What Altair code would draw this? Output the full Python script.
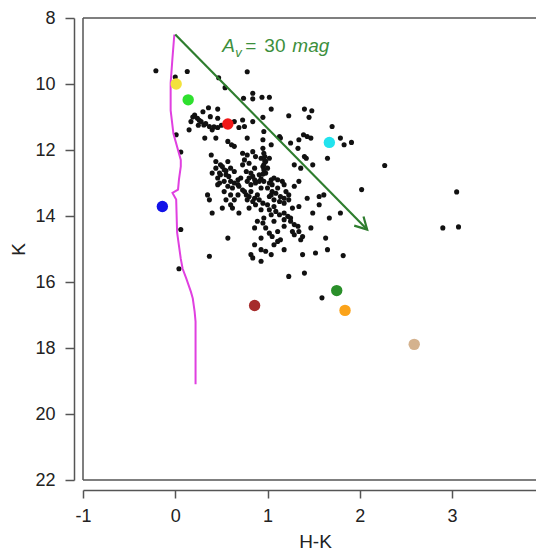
import altair as alt
import pandas as pd

# ---- black field stars (H-K, K) ----
dot_hk = [0.54, 0.74, 0.84, 0.84, 0.94, 1.02, 1.04, 0.95, 0.84, 0.75, 0.69, 1.23, 1.40, 1.48, 1.45,
          0.36, 0.46, 0.38, 0.21, 0.24, 0.28, 0.31, 0.37, 0.46, 0.15, 0.40, 0.32, 0.44, 0.57, 0.61,
          0.64, 0.78, 0.95, 0.95, 1.04, 0.96, 1.13, 1.14, 1.25, 1.34, 1.39, 1.43, 1.47, 1.70, 1.65,
          1.40, 1.42, 1.49, 1.33, 1.29, 1.36, 0.39, 0.44, 0.49, 0.57, 0.53, 0.60, 0.64, 0.73, 0.78,
          0.84, 0.87, 0.93, 0.95, 0.98, 1.02, 1.00, 0.98, 0.91, 0.84, 0.73, 0.77, 0.71, 0.78, 0.82,
          0.87, 0.96, 1.04, 1.11, 1.16, 1.18, 1.11, 1.05, 1.00, 0.93, 0.82, 0.77, 0.78, 0.86, 0.89,
          0.68, 0.62, 0.57, 0.53, 0.48, 0.46, 0.49, 0.40, 0.55, 0.68, 0.64, 0.60, 0.35, 0.37, 0.51,
          0.62, 0.69, 0.40, 0.95, 1.00, 1.07, 1.13, 1.18, 1.23, 1.20, 1.27, 1.34, 1.18, 1.13, 1.04,
          0.96, 0.95, 0.98, 0.86, 0.89, 1.07, 1.18, 1.25, 1.29, 1.34, 1.38, 1.27, 1.49, 1.56, 1.61,
          1.56, 1.67, 1.79, 1.47, 1.63, 1.52, 1.65, 1.38, 1.40, 1.23, 1.07, 1.14, 1.11, 1.04, 0.98,
          0.93, 0.86, 0.82, 0.93, 0.84, 1.18, 0.57, 0.37, 1.34, 1.29, 1.43, 0.73, 0.64, 0.46, 0.30,
          0.17,
          0.75, 0.80, 0.86, 0.82, 0.91, 0.73, 0.68, 0.60, 1.05, 1.02, 0.93, 1.07, 0.87, 0.80, 1.02,
          1.18, 1.11, 0.93, 1.05,
          -0.21, 0.00, 0.13, 0.47, 0.78, 0.01, 0.06, 0.06, 0.04, 1.59, 1.82, 1.79, 1.83, 1.91, 2.27,
          2.02, 3.05, 2.90, 3.07,
          0.96, 0.97, 0.97, 0.96, 0.96, 0.95, 0.93, 0.51, 0.55, 0.48, 0.58, 0.53, 0.64, 0.69, 0.75,
          0.80, 0.84, 0.91, 1.04, 1.09, 1.14, 1.18, 1.23, 1.02, 1.09, 1.22, 1.25, 0.80, 0.86, 1.02,
          1.07, 0.44, 0.46, 0.60, 0.55, 1.29, 1.36, 1.33,
          0.19, 0.26, 0.33, 0.42, 0.50, 0.25]
dot_k = [10.11, 10.43, 10.28, 10.45, 10.40, 10.40, 10.76, 11.01, 11.14, 11.29, 11.32, 10.96, 10.76, 10.81, 11.01,
         10.72, 10.76, 10.99, 10.94, 11.04, 11.14, 11.24, 11.29, 11.32, 11.39, 11.39, 11.64, 11.64, 11.74, 11.84,
         11.89, 11.64, 11.69, 11.95, 11.84, 11.44, 11.59, 11.64, 11.79, 11.69, 11.54, 11.59, 11.64, 11.29, 12.25,
         12.20, 12.25, 12.45, 11.95, 12.45, 12.55, 12.15, 12.35, 12.45, 12.35, 12.60, 12.55, 12.65, 12.10, 12.15,
         12.05, 12.20, 12.25, 12.50, 12.35, 12.25, 12.55, 12.70, 12.75, 12.80, 12.45, 12.65, 12.85, 12.95, 13.05,
         13.00, 12.95, 12.90, 12.90, 12.95, 13.05, 13.15, 13.26, 13.15, 13.15, 13.26, 13.36, 13.51, 13.46, 13.36,
         13.05, 13.15, 13.10, 13.26, 13.00, 12.85, 12.75, 12.70, 12.75, 13.36, 13.51, 13.66, 13.36, 13.51, 13.76,
         13.76, 13.91, 13.91, 13.61, 13.66, 13.71, 13.56, 13.46, 13.36, 13.26, 13.76, 13.71, 13.91, 13.96, 13.96,
         14.06, 14.21, 14.36, 14.36, 14.16, 14.16, 14.11, 14.16, 14.26, 14.47, 14.62, 14.47, 13.91, 13.66, 13.36,
         13.41, 14.06, 13.91, 14.36, 14.67, 15.12, 15.02, 15.17, 15.73, 15.83, 14.87, 14.72, 14.77, 15.17, 15.07,
         15.02, 14.87, 15.17, 15.37, 15.27, 15.02, 14.67, 15.22, 12.95, 13.10, 13.46, 11.09, 11.14, 11.04, 10.84,
         11.14,
         12.30, 12.40, 12.55, 12.70, 12.95, 13.21, 12.90, 12.95, 13.05, 13.41, 13.81, 13.51, 13.66, 13.76, 14.52,
         14.31, 14.47, 14.67, 14.62,
         9.60, 9.79, 9.62, 9.81, 9.63, 11.54, 12.06, 14.41, 15.60, 16.48, 15.20, 11.64, 11.84, 11.77, 12.47,
         13.20, 13.27, 14.36, 14.33,
         12.10, 12.20, 12.33, 12.45, 12.60, 12.73, 12.87, 12.50, 12.63, 12.70, 12.80, 12.95, 13.00, 13.10, 13.26,
         13.41, 13.56, 13.51, 13.36, 13.31, 13.41, 13.61, 13.51, 13.81, 13.86, 14.01, 14.06, 12.85, 12.90, 13.00,
         12.85, 12.55, 13.05, 13.36, 13.51, 14.57, 14.72, 14.31,
         11.00, 11.10, 11.20, 11.30, 11.25, 11.25]

# ---- coloured sources ----
star_hk = [0.01, 0.14, 0.57, -0.14, 1.67, 0.86, 1.75, 1.84, 2.59]
star_k = [10.00, 10.48, 11.21, 13.71, 11.77, 16.71, 16.26, 16.86, 17.89]
star_color = ["#F3E23C", "#2EE02E", "#F01818", "#1212E8", "#22E3EE",
              "#A62B2B", "#2A8F2A", "#FBA31A", "#D4B28E"]

# ---- isochrone (magenta) ----
iso_hk = [-0.01, -0.03, -0.05, -0.05, -0.02, 0.06, 0.06, 0.04, 0.03, -0.03, -0.01, 0.01,
          0.02, 0.06, 0.08, 0.12, 0.17, 0.19, 0.21, 0.22, 0.22]
iso_k = [8.5, 9.2, 9.97, 10.8, 11.5, 12.3, 12.5, 12.9, 13.2, 13.3, 13.4, 13.5,
         14.5, 15.3, 15.6, 15.9, 16.3, 16.5, 16.9, 17.2, 19.1]

# ---- reddening vector ----
arrow_hk = [0.0, 2.08]
arrow_k = [8.5, 14.41]
arrow_angle = 45.4

label_hk = 0.51
label_k = 9.03

x_ticks = [-1, 0, 1, 2, 3]
y_ticks = [8, 10, 12, 14, 16, 18, 20, 22]

W, H = 453, 462
FONT = "Liberation Sans"
AX = "#555555"
GREEN_LINE = "#2E7D2E"
GREEN_TEXT = "#3C8F3C"

dots = pd.DataFrame({"hk": dot_hk, "k": dot_k})
stars = pd.DataFrame({"hk": star_hk, "k": star_k, "c": star_color})
iso = pd.DataFrame({"hk": iso_hk, "k": iso_k, "i": list(range(len(iso_hk)))})
arrow = pd.DataFrame({"hk": arrow_hk, "k": arrow_k, "i": [0, 1]})
tip = pd.DataFrame({"hk": [arrow_hk[1]], "k": [arrow_k[1]], "a": [arrow_angle]})
lab = pd.DataFrame({"hk": [label_hk], "k": [label_k]})

xs = alt.Scale(domain=[-1, 3.91], nice=False, zero=False)
ys = alt.Scale(domain=[8, 22], reverse=True, nice=False, zero=False)

xaxis = alt.Axis(values=x_ticks, title="H-K", grid=False, offset=10, tickSize=8,
                 labelPadding=9, domainColor=AX, tickColor=AX, domainWidth=1.5, tickWidth=1.5,
                 labelFont=FONT, labelFontSize=18, labelColor="#222222", labelFlush=False,
                 labelExpr="'' + datum.value",
                 titleFont=FONT, titleFontSize=19, titleFontWeight="normal", titleColor="#222222",
                 titleX=232, titleY=57, titleBaseline="alphabetic")
yaxis = alt.Axis(values=y_ticks, title="K", grid=False, offset=9, tickSize=9,
                 labelPadding=10, domainColor=AX, tickColor=AX, domainWidth=1.5, tickWidth=1.5,
                 labelFont=FONT, labelFontSize=18, labelColor="#222222", labelFlush=False,
                 titleFont=FONT, titleFontSize=19, titleFontWeight="normal", titleColor="#222222",
                 titleX=-50, titleY=231, titleAngle=270, titleAlign="center",
                 titleBaseline="alphabetic")

X = alt.X("hk:Q", scale=xs, axis=xaxis)
Y = alt.Y("k:Q", scale=ys, axis=yaxis)

frame_df = pd.DataFrame({"d": [0]})
frame_top = alt.Chart(frame_df).mark_rule(color=AX, strokeWidth=1.5).encode(
    x=alt.value(0), x2=alt.value(W), y=alt.value(0))
frame_bot = alt.Chart(frame_df).mark_rule(color=AX, strokeWidth=1.5).encode(
    x=alt.value(0), x2=alt.value(W), y=alt.value(H))
frame_left = alt.Chart(frame_df).mark_rule(color=AX, strokeWidth=1.5).encode(
    x=alt.value(0), y=alt.value(0), y2=alt.value(H))

dot_layer = alt.Chart(dots).mark_circle(size=26, color="#111111", opacity=1).encode(x=X, y=Y)

iso_layer = alt.Chart(iso).mark_line(color="#E040E0", strokeWidth=2).encode(
    x=alt.X("hk:Q", scale=xs), y=alt.Y("k:Q", scale=ys), order="i:Q")

star_layer = alt.Chart(stars).mark_circle(size=130, opacity=1).encode(
    x=alt.X("hk:Q", scale=xs), y=alt.Y("k:Q", scale=ys),
    color=alt.Color("c:N", scale=None, legend=None))

arrow_line = alt.Chart(arrow).mark_line(color=GREEN_LINE, strokeWidth=2.2).encode(
    x=alt.X("hk:Q", scale=xs), y=alt.Y("k:Q", scale=ys), order="i:Q")

arrow_head = alt.Chart(tip).mark_point(
    shape="M-1,-0.55L0,0L-1,0.55", size=560, filled=False, stroke=GREEN_LINE,
    strokeWidth=2.2, opacity=1).encode(
    x=alt.X("hk:Q", scale=xs), y=alt.Y("k:Q", scale=ys), angle=alt.Angle("a:Q", scale=None))

def txt(s, dx, dy=0, size=19, italic=False):
    return alt.Chart(lab).mark_text(
        text=s, align="left", baseline="alphabetic", dx=dx, dy=dy, font=FONT,
        fontSize=size, fontStyle="italic" if italic else "normal", color=GREEN_TEXT).encode(
        x=alt.X("hk:Q", scale=xs), y=alt.Y("k:Q", scale=ys))

label_layers = [txt("A", 0, italic=True), txt("v", 13, 5, size=13, italic=True),
                txt("=", 23), txt("30", 42), txt("mag", 70, italic=True)]

chart = alt.layer(
    dot_layer, iso_layer, star_layer, arrow_line, arrow_head, *label_layers,
    frame_top, frame_bot, frame_left
).properties(
    width=W, height=H, autosize="none",
    padding={"left": 75, "top": 10, "right": 0, "bottom": 74},
    background="white"
).configure_view(stroke=None)

chart.save("out.html", embed_options={"renderer": "svg", "actions": False})
